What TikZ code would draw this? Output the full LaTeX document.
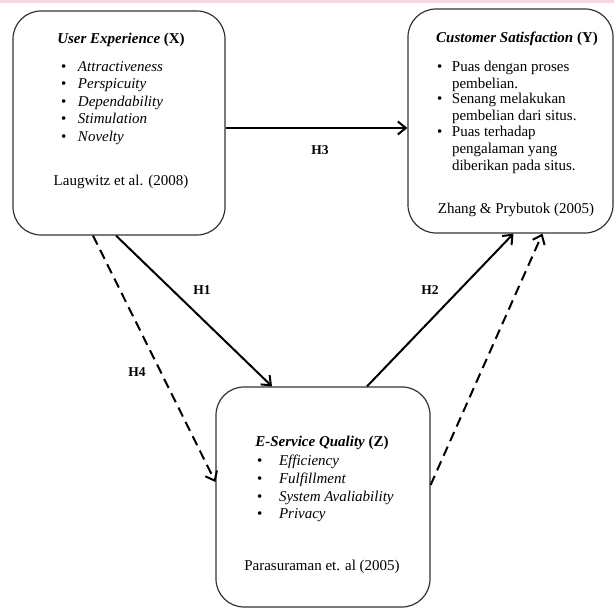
\documentclass[tikz,border=0pt]{standalone}
\usepackage{fontspec}
\setmainfont{Liberation Serif}
\usetikzlibrary{arrows.meta,positioning}
\definecolor{topband}{RGB}{248,216,221}

\begin{document}
\begin{tikzpicture}[x=1pt,y=-1pt,line width=2pt,
          every node/.style={inner sep=0pt,font=\fontsize{15}{17.5}\selectfont},
          >={Straight Barb[length=8pt,width=13pt]},
          varbox/.style={draw=black!80,line width=1.2pt,rounded corners=28pt},
          hyp/.style={font=\fontsize{13.5}{15}\selectfont\bfseries},
          item/.style={anchor=base west,align=left}]
          \useasboundingbox(0,0)rectangle(614,609);
          \fill[topband](0,0)rectangle(614,3);
          \node[varbox,minimum width=212pt,minimum height=224pt](ux)at(119,123){};
          \node[varbox,minimum width=205pt,minimum height=224pt](cs)at(510.5,121){};
          \node[varbox,minimum width=214pt,minimum height=220pt](esq)at(323,497){};
          \node(ux-title)at(121,40){\textbf{\textit{User Experience}} \textbf{(X)}};
          \foreach \t [count=\i] in {Attractiveness,Perspicuity,Dependability,Stimulation,Novelty}
            {\node[item](ux-\i)at(60,54+17.5*\i){\makebox[17pt][l]{\textbullet}\textit{\t}};}
          \node(ux-ref)at(121,182){Laugwitz et al. (2008)};
          \node(cs-title)at(517,39){\textbf{\textit{Customer Satisfaction}} \textbf{(Y)}};
          \foreach \t/\y [count=\i] in {{Puas dengan proses\\pembelian.}/72,
              {Senang melakukan\\pembelian dari situs.}/104,
              {Puas terhadap\\pengalaman yang\\diberikan pada situs.}/137}
            {\node[item,font=\fontsize{15}{16.6}\selectfont](cs-\i)at(436,\y)
              {\makebox[15pt][l]{\textbullet}\begin{tabular}[t]{@{}l@{}}\t\end{tabular}};}
          \node(cs-ref)at(516,210){Zhang \& Prybutok (2005)};
          \node(esq-title)at(322,443){\textbf{\textit{E-Service Quality}} \textbf{(Z)}};
          \foreach \t [count=\i] in {Efficiency,Fulfillment,System Avaliability,Privacy}
            {\node[item](esq-\i)at(256,448+17.7*\i){\makebox[22pt][l]{\textbullet}\textit{\t}};}
          \node(esq-ref)at(322,567){Parasuraman et. al (2005)};
          \draw[->]([yshift=-5pt]ux.east)--([yshift=-7pt]cs.west);
          \draw[->]([xshift=-3pt]ux.south)--([xshift=-51pt]esq.north);
          \draw[->]([xshift=44pt]esq.north)--([xshift=3pt]cs.south);
          \draw[->,dash pattern=on 10pt off 6pt]([xshift=-26pt]ux.south)--([yshift=15pt]esq.west);
          \draw[->,dash pattern=on 10pt off 6pt]([yshift=12pt]esq.east)--([xshift=32pt]cs.south);
          \node[hyp](h3)at(320,150){H3};
          \node[hyp](h1)at(202,290){H1};
          \node[hyp](h2)at(430,290){H2};
          \node[hyp](h4)at(137,372){H4};
        \end{tikzpicture}
\end{document}
